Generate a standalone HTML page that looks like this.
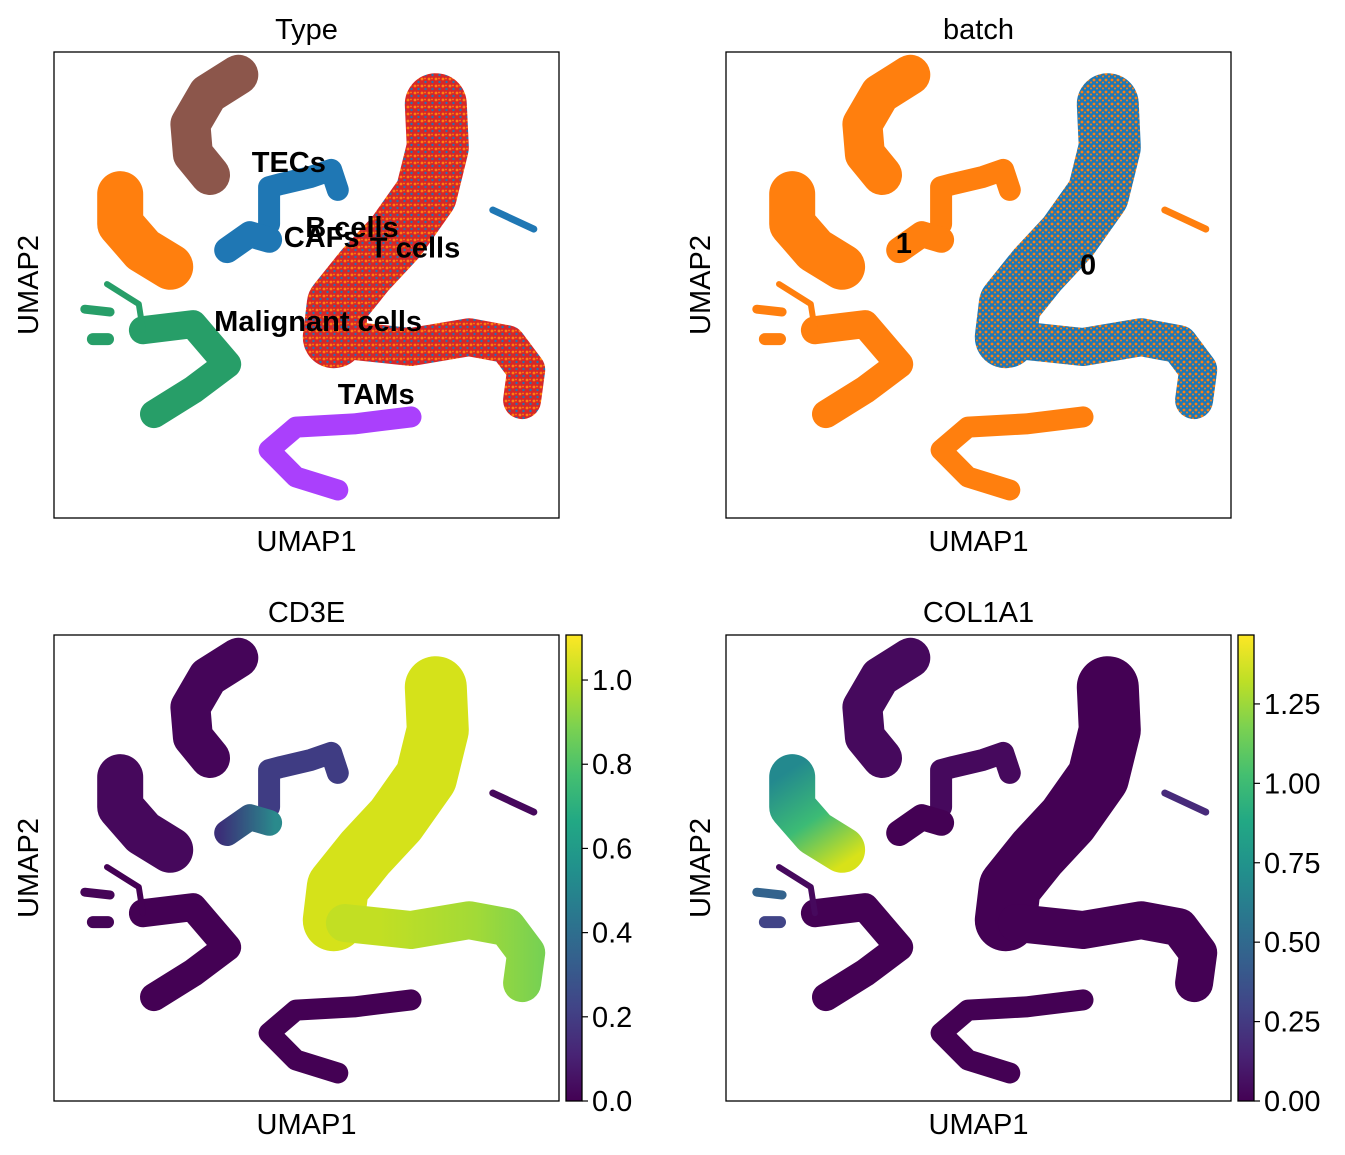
<!DOCTYPE html>
<html><head><meta charset="utf-8"><style>
html,body{margin:0;padding:0;background:#fff;}
svg{display:block;font-family:"Liberation Sans",Arial,sans-serif;}
</style></head><body>
<svg id="fig" width="1345" height="1155" viewBox="0 0 1345 1155">
<defs>
<pattern id="mixRed" width="7" height="7" patternUnits="userSpaceOnUse"><rect width="7" height="7" fill="#d62728"/><circle cx="2" cy="2" r="1.4" fill="#ff7f0e"/><circle cx="5.5" cy="5" r="1.2" fill="#1f77b4"/><circle cx="5" cy="1.5" r="0.9" fill="#ff7f0e"/></pattern>
<pattern id="mixBlue" width="6" height="6" patternUnits="userSpaceOnUse"><rect width="6" height="6" fill="#1f77b4"/><circle cx="2" cy="2" r="1.4" fill="#ff7f0e"/><circle cx="5" cy="4.5" r="1" fill="#ff7f0e"/></pattern>
<linearGradient id="vir" x1="0" y1="1" x2="0" y2="0">
<stop offset="0" stop-color="#440154"/><stop offset="0.1" stop-color="#482475"/><stop offset="0.2" stop-color="#414487"/><stop offset="0.3" stop-color="#355f8d"/><stop offset="0.4" stop-color="#2a788e"/><stop offset="0.5" stop-color="#21918c"/><stop offset="0.6" stop-color="#22a884"/><stop offset="0.7" stop-color="#44bf70"/><stop offset="0.8" stop-color="#7ad151"/><stop offset="0.9" stop-color="#bddf26"/><stop offset="1" stop-color="#fde725"/></linearGradient>
<linearGradient id="cdLow" gradientUnits="userSpaceOnUse" x1="380" y1="0" x2="540" y2="0"><stop offset="0" stop-color="#c2df23"/><stop offset="0.6" stop-color="#a2da37"/><stop offset="1" stop-color="#78d152"/></linearGradient>
<linearGradient id="cdCaf" gradientUnits="userSpaceOnUse" x1="220" y1="0" x2="275" y2="0"><stop offset="0" stop-color="#3b2f78"/><stop offset="1" stop-color="#2a8a8c"/></linearGradient>
<linearGradient id="colOr" gradientUnits="userSpaceOnUse" x1="790" y1="770" x2="850" y2="860"><stop offset="0" stop-color="#23898e"/><stop offset="0.5" stop-color="#3cbb75"/><stop offset="1" stop-color="#d8e219"/></linearGradient>
</defs>
</svg>
<script>
// ---- data (UMAP coordinates, arbitrary units 0..100) ----
const clusterNames = ["brown","orange","tecs","cafs","small","green-main","green-arm","green-blob1","green-blob2","main-upper","main-lower","tams"];
const clusterU = [
 [36.5,30.5,27.0,27.5,30.9],
 [13.1,13.1,17.6,23.0],
 [42.6,42.6,45.0,50.9,54.9,56.2],
 [34.3,38.8,42.6],
 [86.9,95.0],
 [17.6,27.5,34.3,27.5,19.8],
 [10.5,16.8,17.6],
 [7.7,10.7],
 [6.1,11.1],
 [75.6,76.0,73.7,67.7,61.6,56.2,55.4],
 [57.6,70.7,82.2,89.7,93.5,92.7],
 [70.7,59.4,47.9,42.6,47.9,56.2]
];
const clusterV = [
 [95.1,91.0,84.5,78.1,73.6],
 [69.5,63.1,57.5,53.9],
 [63.1,71.0,71.7,73.2,74.7,70.4],
 [57.5,60.9,59.7],
 [66.1,62.0],
 [40.3,41.6,33.0,27.5,22.3],
 [50.2,45.9,40.3],
 [38.4,38.4],
 [44.8,44.2],
 [88.8,79.6,69.5,60.3,53.2,45.9,38.8],
 [38.2,36.7,38.8,37.3,31.8,25.3],
 [21.7,20.2,19.5,14.6,8.8,6.0]
];
const clusterWidth = [40,46,22,26,7,28,6,12,9,62,38,21];
const typeColors  = ["#8c564b","#ff7f0e","#1f77b4","#1f77b4","#1f77b4","#279e68","#279e68","#279e68","#279e68","url(#mixRed)","url(#mixRed)","#aa40fc"];
const batchColors = ["#ff7f0e","#ff7f0e","#ff7f0e","#ff7f0e","#ff7f0e","#ff7f0e","#ff7f0e","#ff7f0e","#ff7f0e","url(#mixBlue)","url(#mixBlue)","#ff7f0e"];
const cd3eColors  = ["#450559","#46085c","#3f3c83","url(#cdCaf)","#46085c","#440154","#440154","#450457","#450457","#d5e21a","url(#cdLow)","#440154"];
const colColors   = ["#46095d","url(#colOr)","#46095d","#440154","#472a7a","#440154","#46095d","#414487","#33638d","#440154","#440154","#440154"];
const typeLabels = ["TECs","B cells","CAFs","T cells","Malignant cells","TAMs"];
const typeLabelU = [46.5,59.0,53.0,71.5,52.3,63.8];
const typeLabelV = [76.4,62.4,60.3,58.0,42.3,26.6];
const batchLabels = ["1","0"];
const batchLabelU = [35.2,71.7];
const batchLabelV = [59.0,54.4];
const cd3eTicks = [0.0,0.2,0.4,0.6,0.8,1.0];
const cd3eTickText = ["0.0","0.2","0.4","0.6","0.8","1.0"];
const cd3eMax = 1.107;
const colTicks = [0.0,0.25,0.5,0.75,1.0,1.25];
const colTickText = ["0.00","0.25","0.50","0.75","1.00","1.25"];
const colMax = 1.467;

const NS="http://www.w3.org/2000/svg";
const svg=document.getElementById('fig');
function mk(tag,attrs,parent){const e=document.createElementNS(NS,tag);for(const k in attrs)e.setAttribute(k,attrs[k]);(parent||svg).appendChild(e);return e;}
const W=505,H=466,FS=29;
const panels=[
 {x:54,y:52,title:"Type",colors:typeColors,key:"type"},
 {x:726,y:52,title:"batch",colors:batchColors,key:"batch"},
 {x:54,y:635,title:"CD3E",colors:cd3eColors,key:"cd3e"},
 {x:726,y:635,title:"COL1A1",colors:colColors,key:"col1a1"}
];
panels.forEach((p,pi)=>{
  const xs=u=>p.x+u/100*W, ys=v=>p.y+H-v/100*H;
  const g=mk('g',{});
  
  
  clusterNames.forEach((n,i)=>{
    let d='';
    clusterU[i].forEach((u,j)=>{d+=(j?'L':'M')+xs(u).toFixed(1)+' '+ys(clusterV[i][j]).toFixed(1);});
    const path=mk('path',{d:d,fill:'none',stroke:p.colors[i],'stroke-width':clusterWidth[i],'stroke-linecap':'round','stroke-linejoin':'round'},g);
    
    
  });
  const box=mk('rect',{x:p.x,y:p.y,width:W,height:H,fill:'none',stroke:'#000','stroke-width':1.3},g);
  
  
  const t=mk('text',{x:p.x+W/2,y:p.y-13,'text-anchor':'middle','font-size':FS},g);t.textContent=p.title;
  
  
  const xl=mk('text',{x:p.x+W/2,y:p.y+H+33,'text-anchor':'middle','font-size':FS},g);xl.textContent="UMAP1";
  
  
  const yl=mk('text',{x:0,y:0,'text-anchor':'middle','font-size':FS,transform:`translate(${p.x-16},${p.y+H/2}) rotate(-90)`},g);yl.textContent="UMAP2";
  
  
  if(pi===0){typeLabels.forEach((l,i)=>{const e=mk('text',{x:xs(typeLabelU[i]),y:ys(typeLabelV[i])+10,'text-anchor':'middle','font-size':FS,'font-weight':'bold'},g);e.textContent=l;
    
    });}
  if(pi===1){batchLabels.forEach((l,i)=>{const e=mk('text',{x:xs(batchLabelU[i]),y:ys(batchLabelV[i])+10,'text-anchor':'middle','font-size':FS,'font-weight':'bold'},g);e.textContent=l;
    
    });}
  if(pi>=2){
    const ticks=pi===2?cd3eTicks:colTicks, tt=pi===2?cd3eTickText:colTickText, mx=pi===2?cd3eMax:colMax;
    const cx=p.x+W+7, cw=16;
    const cb=mk('rect',{x:cx,y:p.y,width:cw,height:H,fill:'url(#vir)',stroke:'#000','stroke-width':1.3},g);
    
    
    ticks.forEach((v,i)=>{const y=p.y+H-v/mx*H;
      mk('line',{x1:cx+cw,x2:cx+cw+6,y1:y,y2:y,stroke:'#000','stroke-width':1.2},g);
      const e=mk('text',{x:cx+cw+10,y:y+10,'font-size':FS},g);e.textContent=tt[i];
      
      });
  }
});
</script>
</body></html>
